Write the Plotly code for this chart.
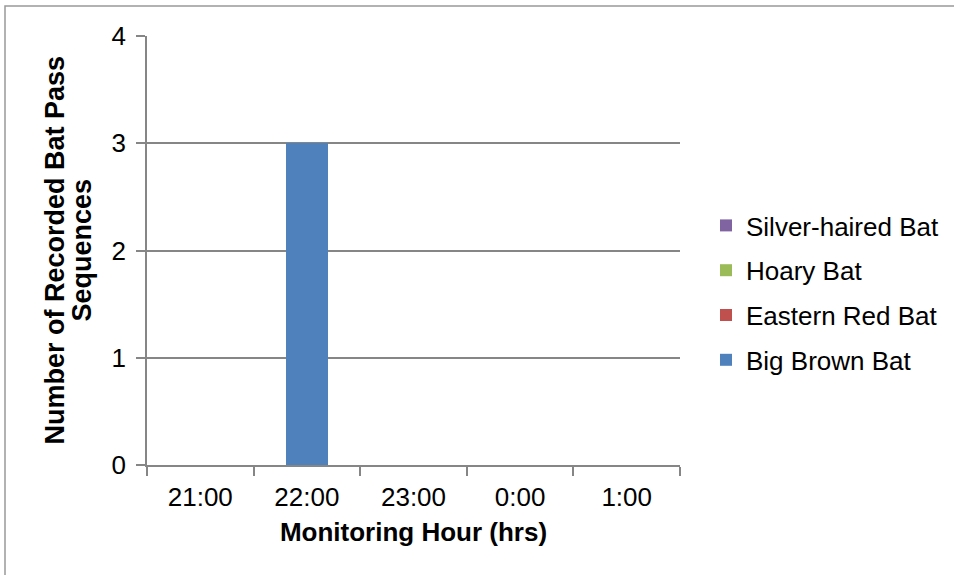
import plotly.graph_objects as go

hours = ["21:00", "22:00", "23:00", "0:00", "1:00"]
big_brown = [0, 3, 0, 0, 0]
eastern_red = [0, 0, 0, 0, 0]
hoary = [0, 0, 0, 0, 0]
silver_haired = [0, 0, 0, 0, 0]

series = [
    ("Big Brown Bat", big_brown, "#4F81BD"),
    ("Eastern Red Bat", eastern_red, "#C0504D"),
    ("Hoary Bat", hoary, "#9BBB59"),
    ("Silver-haired Bat", silver_haired, "#8064A2"),
]

FONT = "Liberation Sans, Arial, sans-serif"
FS = 26
W, H = 954, 575
L, R, T, B = 147, 274, 36, 110
pw, ph = W - L - R, H - T - B

def px_x(x):
    return (x - L) / pw

def px_y(y):
    return (H - B - y) / ph

fig = go.Figure()
n = len(series)
for i, (name, vals, col) in enumerate(series):
    fig.add_trace(go.Bar(x=hours, y=vals, name=name, legendgroup=name, legendrank=n - i,
                         marker=dict(color=col, line=dict(width=0)), width=0.4))

grid = "#868686"
fig.update_layout(
    width=W, height=H,
    margin=dict(l=L, r=R, t=T, b=B, pad=0, autoexpand=False),
    barmode="stack",
    plot_bgcolor="white", paper_bgcolor="white",
    font=dict(family=FONT, size=FS, color="black"),
    showlegend=True,
    legend=dict(traceorder="grouped", tracegroupgap=8,
                x=px_x(706), xanchor="left",
                y=px_y(293), yanchor="middle",
                font=dict(size=FS), bgcolor="rgba(0,0,0,0)"),
    xaxis=dict(showline=True, linecolor=grid, linewidth=1.5, ticks="outside", tickson="boundaries",
               ticklen=9, tickcolor=grid, tickwidth=1.5, showgrid=False,
               title=dict(text="<b>Monitoring Hour (hrs)</b>", font=dict(size=FS), standoff=12),
               ticklabelstandoff=8),
    yaxis=dict(range=[0, 4], dtick=1, showline=True, linecolor=grid, linewidth=1.5,
               ticks="outside", ticklen=9, tickcolor=grid, tickwidth=1.5,
               showgrid=True, gridcolor=grid, gridwidth=1.5, zeroline=False,
               ticklabelstandoff=5),
)

for txt, xc in (("Number of Recorded Bat Pass", 54), ("Sequences", 81)):
    fig.add_annotation(text="<b>" + txt + "</b>", textangle=-90,
                       xref="paper", yref="paper", x=px_x(xc), y=px_y(250.5),
                       xanchor="center", yanchor="middle", showarrow=False,
                       font=dict(size=FS + 1))

fig.add_shape(type="rect", xref="paper", yref="paper",
              x0=px_x(5), x1=px_x(W + 5), y0=px_y(H + 5), y1=px_y(6),
              line=dict(color="#999999", width=1.5), fillcolor="rgba(0,0,0,0)", layer="below")

fig.write_html("out.html", config={"displayModeBar": False},
               post_script="document.body.style.margin='0';")
